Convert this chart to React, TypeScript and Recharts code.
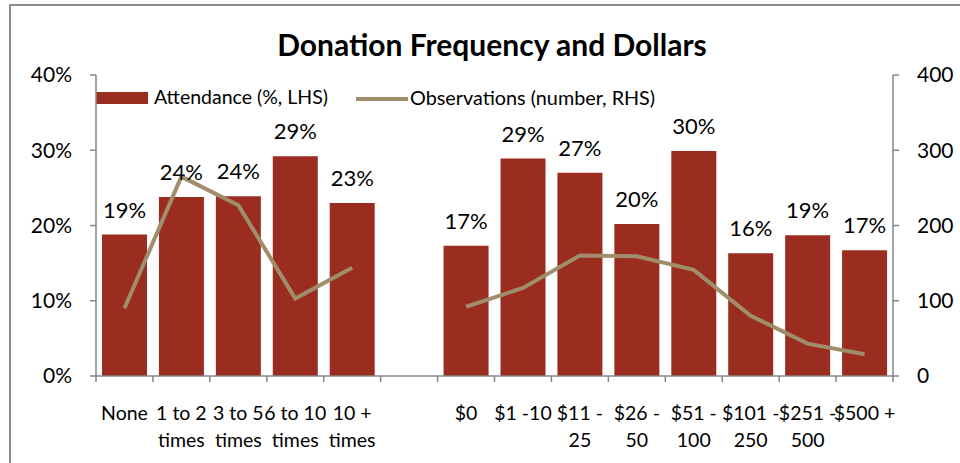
import React from "react";
import {
  ComposedChart,
  Bar,
  Line,
  XAxis,
  YAxis,
  LabelList,
} from "recharts";

const categories = [
  "None",
  "1 to 2\ntimes",
  "3 to 5\ntimes",
  "6 to 10\ntimes",
  "10 +\ntimes",
  "",
  "$0",
  "$1 -10",
  "$11 -\n25",
  "$26 -\n50",
  "$51 -\n100",
  "$101 -\n250",
  "$251 -\n500",
  "$500 +",
];

// % attendance, left axis
const attendance = [18.8, 23.8, 23.9, 29.2, 23.0, null, 17.3, 28.9, 27.0, 20.2, 29.9, 16.3, 18.7, 16.7];
// number of observations, right axis
const observations = [90, 265, 227, 103, 144, null, 92, 117, 160, 159, 141, 80, 43, 29];

const pctTicks = [0, 10, 20, 30, 40];
const countTicks = [0, 100, 200, 300, 400];

const data = categories.map((name, i) => ({
  name,
  attendance: attendance[i],
  observations: observations[i],
}));

const FONT = "Lato, 'Open Sans', sans-serif";
const AXIS = "#868686";
const BAR = "#9A2D20";
const LINE = "#A08D6C";

function CategoryTick(props: any) {
  const { x, y, payload } = props;
  const half = payload.offset ?? 797 / 14 / 2;
  const lines = String(payload.value).split("\n");
  const isLast = payload.index === categories.length - 1;
  return (
    <g>
      <line x1={x - half} x2={x - half} y1={y} y2={y + 6} stroke={AXIS} strokeWidth={1.5} />
      {isLast && (
        <line x1={x + half} x2={x + half} y1={y} y2={y + 6} stroke={AXIS} strokeWidth={1.5} />
      )}
      <text x={x} y={y + 44} textAnchor="middle" fill="#000" fontSize={19.5} fontFamily={FONT}>
        {lines.map((l, i) => (
          <tspan key={i} x={x} dy={i === 0 ? 0 : 27}>
            {l}
          </tspan>
        ))}
      </text>
    </g>
  );
}

export default function App() {
  const tickStyle = { fontSize: 21, fill: "#000", fontFamily: FONT };
  return (
    <div
      style={{
        position: "absolute",
        left: 0,
        top: 0,
        width: 960,
        height: 463,
        background: "#fff",
        overflow: "hidden",
        fontFamily: FONT,
      }}
    >
      <div
        style={{
          position: "absolute",
          left: 9,
          top: 4,
          width: 960,
          height: 470,
          borderTop: "2px solid #8c8c8c",
          borderLeft: "2px solid #8c8c8c",
        }}
      />
      <div
        style={{
          position: "absolute",
          left: 0,
          width: 984,
          top: 26,
          textAlign: "center",
          fontSize: 30,
          fontWeight: 700,
          color: "#000",
        }}
      >
        Donation Frequency and Dollars
      </div>
      <div style={{ position: "absolute", left: 96, top: 92, width: 52, height: 12, background: BAR }} />
      <div style={{ position: "absolute", left: 154, top: 85, fontSize: 19.5, color: "#000" }}>
        Attendance (%, LHS)
      </div>
      <div style={{ position: "absolute", left: 356, top: 97, width: 52, height: 4, background: LINE }} />
      <div style={{ position: "absolute", left: 410, top: 85, fontSize: 19.8, color: "#000" }}>
        Observations (number, RHS)
      </div>
      <ComposedChart
        width={960}
        height={463}
        data={data}
        margin={{ top: 75, right: 0, bottom: 0, left: 0 }}
        style={{ position: "absolute", left: 0, top: 0 }}
      >
        <XAxis
          dataKey="name"
          height={87}
          interval={0}
          tickLine={false}
          tickSize={0}
          tickMargin={0}
          axisLine={{ stroke: AXIS, strokeWidth: 1.5 }}
          tick={<CategoryTick />}
        />
        <YAxis
          yAxisId="left"
          width={96}
          domain={[0, 40]}
          ticks={pctTicks}
          tickFormatter={(v) => `${v}%`}
          tick={tickStyle}
          tickSize={6}
          tickMargin={18}
          tickLine={{ stroke: AXIS, strokeWidth: 1.5 }}
          axisLine={{ stroke: AXIS, strokeWidth: 1.5 }}
        />
        <YAxis
          yAxisId="right"
          orientation="right"
          width={67}
          domain={[0, 400]}
          ticks={countTicks}
          tick={{ ...tickStyle, textAnchor: "start" }}
          tickSize={6}
          tickMargin={18}
          tickLine={{ stroke: AXIS, strokeWidth: 1.5 }}
          axisLine={{ stroke: AXIS, strokeWidth: 1.5 }}
        />
        <Bar yAxisId="left" dataKey="attendance" fill={BAR} barSize={45} isAnimationActive={false}>
          <LabelList
            dataKey="attendance"
            position="top"
            offset={17}
            formatter={(v: any) => (v == null ? "" : `${Math.round(v)}%`)}
            style={{ fontSize: 22, fill: "#000", fontFamily: FONT }}
          />
        </Bar>
        <Line
          yAxisId="right"
          dataKey="observations"
          type="linear"
          stroke={LINE}
          strokeWidth={4}
          dot={false}
          activeDot={false}
          connectNulls={false}
          isAnimationActive={false}
        />
      </ComposedChart>
    </div>
  );
}
